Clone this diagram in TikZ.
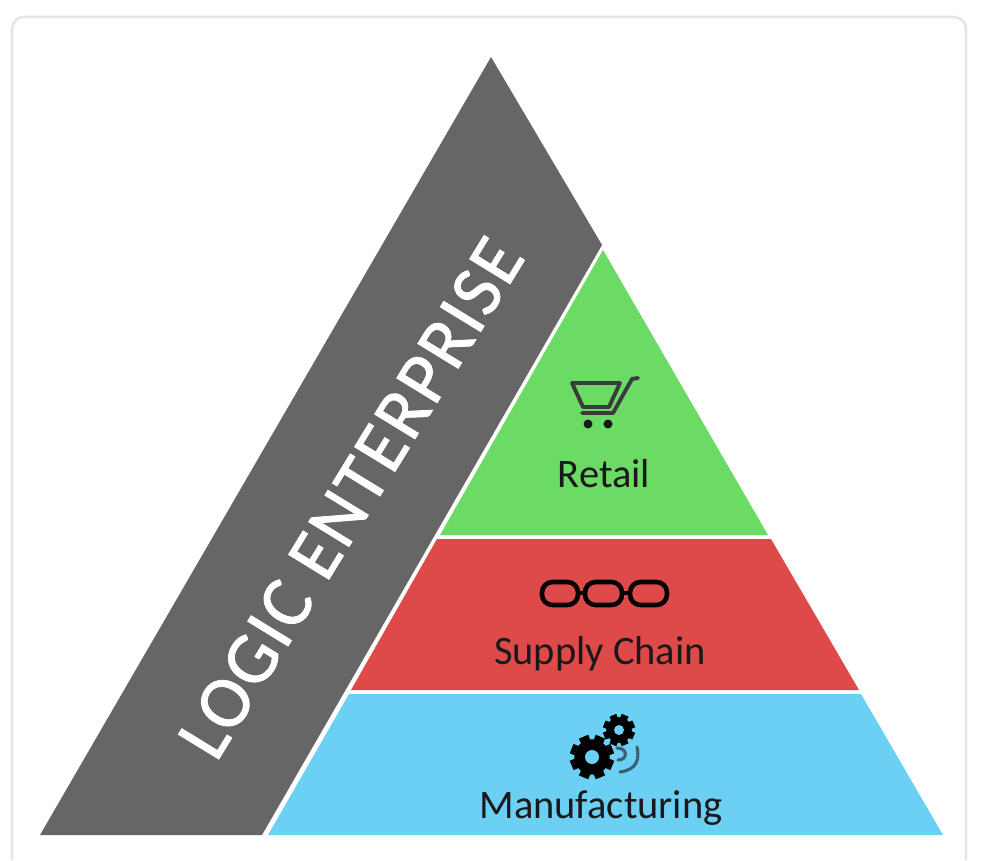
\documentclass[tikz,border=0pt]{standalone}
\usepackage{fontspec}
\setmainfont{Carlito}
\newfontfamily\logicfont[FakeBold=1.2,LetterSpace=3]{Carlito}
\usetikzlibrary{positioning}
\definecolor{cgrey}{RGB}{102,102,102}
\definecolor{cgreen}{RGB}{107,219,102}
\definecolor{cred}{RGB}{222,74,74}
\definecolor{cblue}{RGB}{108,208,245}
\definecolor{ccard}{RGB}{227,230,235}
\definecolor{cink}{RGB}{25,25,25}
% gear: centre x, centre y, radius, hole radius
\newcommand{\gearicon}[4]{%
  \fill[black] (#1,#2) circle ({0.8*#3});
  \foreach \a in {0,45,...,315}
    \draw[black, line width={0.13*#3}, line cap=butt] ({#1+0.7*#3*cos(\a+22.5)},{#2+0.7*#3*sin(\a+22.5)}) -- ({#1+#3*cos(\a+22.5)},{#2+#3*sin(\a+22.5)});
  \fill[cblue] (#1,#2) circle (#4);}
\tikzset{
  tier/.style={draw=none},
  lab/.style={font=\fontsize{11.5}{14}\selectfont, text=cink, inner sep=0pt},
  icn/.style={line width=1.1pt, cink!85, line join=round, line cap=round},
  lnk/.style={line width=1.3pt, black, rounded corners=3pt},
}
\begin{document}
\begin{tikzpicture}[x=0.01cm, y=0.01cm]
\useasboundingbox (0,0) rectangle (1000,860);
\fill[white] (0,0) rectangle (1000,860);
%---- card
\draw[ccard, line width=0.75pt] (12,0) -- (12,831) arc (180:90:12) -- (954,843) arc (90:0:12) -- (966,0);
%---- pyramid
\fill[tier, cgrey] (491,803) -- (602,615) -- (262,25) -- (40,25) -- cycle;
\fill[tier, cgreen] (603,610) -- (768,325) -- (440,325) -- cycle;
\fill[tier, cred] (437,321) -- (771,321) -- (859,170) -- (351,170) -- cycle;
\fill[tier, cblue] (349,166) -- (861,166) -- (943,25) -- (268,25) -- cycle;
%---- labels
\node[font=\fontsize{21}{24}\selectfont\logicfont, text=white, rotate=58.5, inner sep=0pt] (logic) at (351,362) {LOGIC ENTERPRISE};
\node[lab] (retail) at (604,386) {Retail};
\node[lab] (supply) at (600,206) {Supply Chain};
\node[lab] (manu) at (601,52) {Manufacturing};
%---- cart
\draw[icn] (572,477) -- (620,477) -- (609,453) -- (583,453) -- cycle;
\draw[icn] (638,482) -- (632,481) -- (613,447) -- (582,447);
\fill[cink] (588,436) circle (4.5) (608,436) circle (4.5);
%---- chain
\draw[lnk] (542,255) rectangle (578,278);
\draw[lnk] (585,255) rectangle (622,278);
\draw[lnk] (630,255) rectangle (667,278);
\draw[line width=1pt, black] (578,267) -- (585,267) (622,267) -- (630,267);
%---- gears
\gearicon{592}{103}{22}{7}
\gearicon{619}{130}{16}{5}
\draw[line width=0.9pt, cink!60!cblue, line cap=round] (617,112) .. controls (628,112) and (628,100) .. (618,100);
\draw[line width=0.9pt, cink!60!cblue, line cap=round] (637,113) .. controls (640,100) and (636,90) .. (620,88);
\end{tikzpicture}
\end{document}
